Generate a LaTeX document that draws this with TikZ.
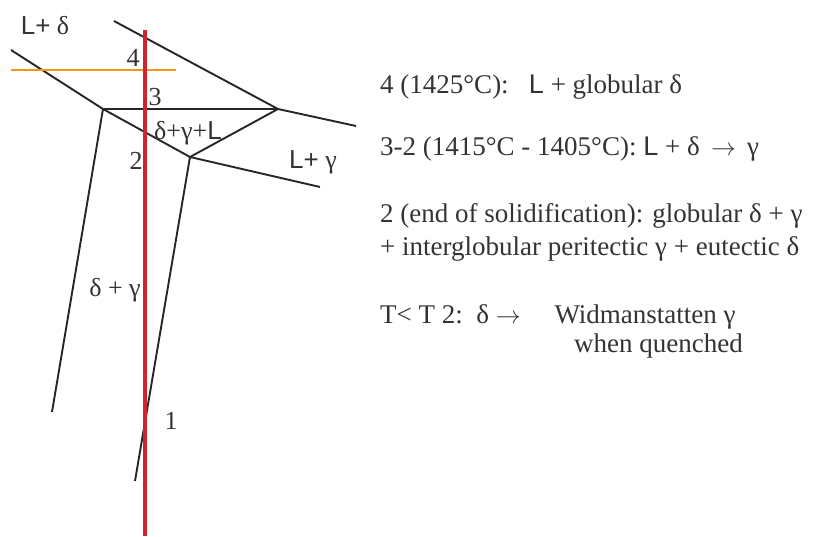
\documentclass[tikz,border=0pt]{standalone}
\usepackage{fontspec}
\usepackage{xcolor}
\usetikzlibrary{positioning}
\setmainfont{Liberation Serif}
\newfontfamily\lsans{Liberation Sans}
\definecolor{LineGray}{HTML}{262626}
\definecolor{TextGray}{HTML}{333333}
\definecolor{CutRed}{HTML}{D0232D}
\definecolor{IsoOrange}{HTML}{F7941D}

\begin{document}
\begin{tikzpicture}[
  x=1pt, y=-1pt,
  phase/.style={draw=LineGray, line width=1.9pt},
  lbl/.style={text=TextGray, inner sep=0pt, font=\fontsize{26}{32}\selectfont},
  info/.style={lbl, anchor=base west, font=\fontsize{27}{33}\selectfont}
]
  \useasboundingbox (0,0) rectangle (834,536);

  % phase boundaries
  \coordinate (pl) at (103,109);
  \coordinate (pr) at (278,109);
  \coordinate (pb) at (190,157);
  \coordinate (liqtop) at (114,21);
  \coordinate (liqend) at (356,126);
  \coordinate (soltop) at (11,50);
  \coordinate (gamend) at (320,187);
  \coordinate (dgleft) at (52,412);
  \coordinate (dgright) at (135,481);

  \draw[phase] (liqtop) -- (pr) -- (liqend);
  \draw[phase] (soltop) -- (pl) -- (pr);
  \draw[phase] (pl) -- (pb) -- (pr);
  \draw[phase] (pb) -- (gamend);
  \draw[phase] (pl) -- (dgleft);
  \draw[phase] (pb) -- (dgright);

  % isotherm and composition line
  \coordinate (isoa) at (11,70);
  \coordinate (isob) at (176,70);
  \coordinate (cuta) at (145,30);
  \coordinate (cutb) at (145,536);
  \draw[IsoOrange, line width=2pt] (isoa) -- (isob);
  \draw[CutRed, line width=4pt] (cuta) -- (cutb);

  % region and point labels
  \node[lbl] (ld) at (45,26) {{\lsans L+} δ};
  \node[lbl] (lg) at (313,162) {{\lsans L+} γ};
  \node[lbl] (dgl) at (188,133) {δ+γ+{\lsans L}};
  \node[lbl] (dg) at (115,290) {δ + γ};
  \node[lbl] (p4) at (133,58) {4};
  \node[lbl] (p3) at (155,97) {3};
  \node[lbl] (p2) at (136,161) {2};
  \node[lbl] (p1) at (171,421) {1};

  % description
  \node[info] (t4) at (380,93) {4 (1425°C):\ \ \ {\lsans L} + globular δ};
  \node[info] (t32) at (380,155) {3-2 (1415°C - 1405°C): {\lsans L} + δ\ \,$\rightarrow$\ \,γ};
  \node[info] (t2) at (380,222) {2 (end of solidification): globular δ + γ};
  \node[info] (t2b) at (380,255) {+ interglobular peritectic γ + eutectic δ};
  \node[info] (tt) at (380,323) {T< T 2:\ \ δ\ $\rightarrow$\quad\ Widmanstatten γ};
  \node[info] (tq) at (574,352) {when quenched};
\end{tikzpicture}
\end{document}
